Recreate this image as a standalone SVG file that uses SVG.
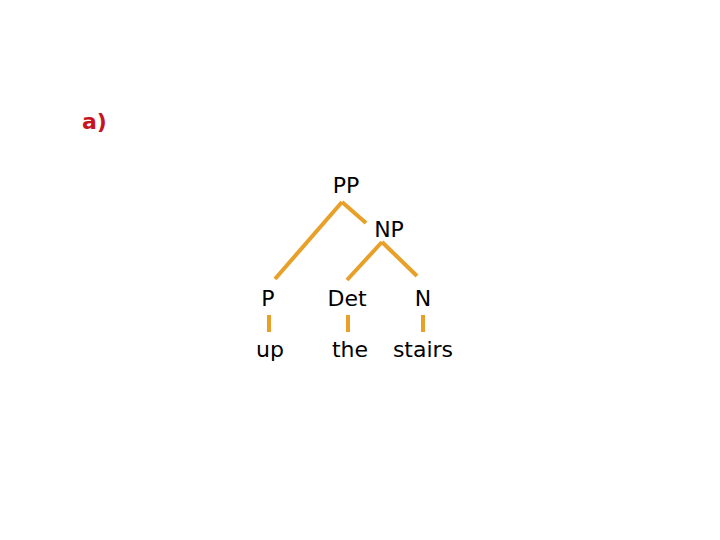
<svg xmlns="http://www.w3.org/2000/svg" width="720" height="540" viewBox="0 0 720 540">
<style>
.t{font-family:"DejaVu Sans","Liberation Sans",sans-serif;font-size:22px;fill:#000;text-anchor:middle}
.e{stroke:#E8A028;stroke-width:4;stroke-linecap:butt;fill:none}
</style>
<rect width="720" height="540" fill="#fff"/>
<text x="82" y="129" font-family="DejaVu Sans,sans-serif" font-size="22" font-weight="bold" fill="#C8141E">a)</text>
<g id="connectors">
<line class="e" x1="342" y1="202" x2="275" y2="279"/>
<line class="e" x1="342" y1="202" x2="366" y2="223"/>
<line class="e" x1="382" y1="242" x2="347" y2="280"/>
<line class="e" x1="382" y1="242" x2="417" y2="276"/>
<line class="e" x1="269" y1="315" x2="269" y2="332"/>
<line class="e" x1="348" y1="315" x2="348" y2="332"/>
<line class="e" x1="423" y1="315" x2="423" y2="332"/>
</g>
<g id="PP"><text class="t" x="346" y="193">PP</text></g>
<g id="NP"><text class="t" x="389" y="237">NP</text></g>
<g id="P"><text class="t" x="268" y="306">P</text></g>
<g id="Det"><text class="t" x="347" y="306">Det</text></g>
<g id="N"><text class="t" x="423" y="306">N</text></g>
<g id="up"><text class="t" x="270" y="357">up</text></g>
<g id="the"><text class="t" x="350" y="357">the</text></g>
<g id="stairs"><text class="t" x="423" y="357">stairs</text></g>
</svg>
